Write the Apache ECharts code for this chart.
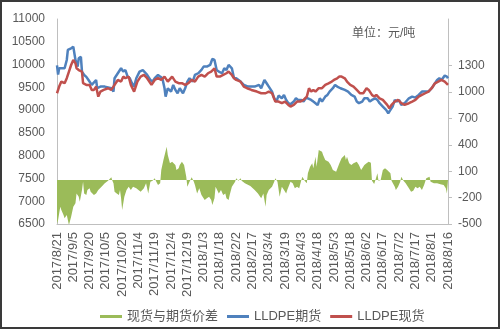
<!DOCTYPE html>
<html><head><meta charset="utf-8">
<script src="https://cdn.jsdelivr.net/npm/echarts@6/dist/echarts.min.js"></script>
<style>html,body{margin:0;padding:0;background:#fff}#c{width:500px;height:329px}</style>
</head><body><div id="c"></div>
<script>
// x tick labels (every 15 days from 2017/8/21)
const dateLabels = ['2017/8/21','2017/9/5','2017/9/20','2017/10/5','2017/10/20','2017/11/4','2017/11/19','2017/12/4','2017/12/19','2018/1/3','2018/1/18','2018/2/2','2018/2/17','2018/3/4','2018/3/19','2018/4/3','2018/4/18','2018/5/3','2018/5/18','2018/6/2','2018/6/17','2018/7/2','2018/7/17','2018/8/1','2018/8/16'];
const leftTicks = [6500,7000,7500,8000,8500,9000,9500,10000,10500,11000];
const rightTicks = [-500,-200,100,400,700,1000,1300,1600];

// LLDPE futures (day offset from 2017/8/21, price)
const futDay = [0,1,2,7,9,10,13,15,17,19,20,22,23,25,27,29,30,32,33,36,37,40,44,50,52,53,56,59,61,63,65,67,69,71,73,76,79,80,83,86,88,90,93,95,97,99,100,102,105,107,109,111,113,116,118,120,122,125,127,130,133,135,138,141,143,145,147,149,152,154,156,158,161,163,165,169,172,176,182,186,188,191,193,195,198,200,202,204,207,209,211,213,215,218,220,222,225,227,229,231,234,236,238,240,242,244,247,249,251,254,256,258,261,265,268,271,274,276,278,281,283,286,288,290,293,295,297,300,303,305,307,309,311,313,315,317,320,324,327,330,333,336,337,340,342,345,347,350,352,354,357,359,360];
const futVal = [9980,9780,9920,9919,10100,10320,10357,10393,10100,9954,10137,10170,9845,9772,9730,9662,9700,9553,9590,9662,9480,9516,9516,9480,9406,9700,9810,9919,9845,9880,9735,9700,9590,9516,9700,9845,9880,9845,9772,9662,9626,9700,9772,9735,9700,9480,9296,9480,9406,9553,9443,9370,9480,9370,9480,9626,9699,9626,9772,9809,9882,9955,9955,9991,10123,10101,9882,9845,9809,9918,9882,9991,9918,9699,9699,9626,9553,9516,9516,9553,9480,9662,9589,9516,9407,9260,9187,9319,9260,9334,9224,9151,9129,9187,9260,9224,9224,9187,9260,9260,9224,9187,9151,9110,9260,9187,9297,9334,9407,9480,9553,9516,9480,9443,9407,9334,9297,9187,9151,9187,9260,9260,9187,9224,9260,9224,9151,9078,9005,8931,9005,9078,9224,9187,9224,9114,9151,9260,9297,9275,9334,9407,9370,9407,9407,9480,9553,9662,9699,9662,9757,9736,9699];

// LLDPE spot
const spotDay = [0,2,4,7,9,11,13,15,17,18,20,23,24,27,30,32,34,36,38,40,43,47,50,53,56,59,61,63,66,68,71,74,77,80,83,87,90,93,96,99,102,106,109,112,115,118,121,124,127,130,133,136,139,142,145,147,150,153,156,158,161,163,165,169,172,175,179,184,188,192,195,198,201,204,207,210,213,215,218,221,224,227,230,232,234,236,238,241,244,247,250,253,255,258,260,262,265,267,270,273,276,279,282,285,287,290,292,294,297,300,304,306,308,311,314,317,320,324,327,330,333,336,339,342,345,348,351,354,357,360];
const spotVal = [9370,9516,9626,9590,9700,9845,9990,10100,10027,9919,9880,9845,9590,9553,9553,9443,9443,9516,9296,9406,9443,9480,9443,9553,9662,9626,9735,9700,9735,9553,9406,9626,9735,9772,9700,9553,9662,9700,9662,9735,9626,9735,9626,9590,9590,9553,9590,9662,9626,9736,9772,9736,9809,9845,9918,9736,9736,9772,9809,9845,9772,9699,9662,9626,9516,9480,9443,9407,9370,9370,9407,9370,9187,9187,9151,9187,9114,9078,9114,9187,9187,9224,9297,9480,9407,9443,9407,9480,9480,9553,9589,9626,9662,9699,9736,9736,9699,9626,9553,9516,9443,9370,9370,9480,9443,9334,9297,9334,9260,9224,9114,9041,9114,9187,9224,9151,9114,9151,9187,9224,9297,9334,9370,9407,9480,9589,9626,9662,9626,9553];

// Spot minus futures spread
const spreadDay = [0,1,3,4,6,7,9,10,11,13,15,17,18,20,21,23,24,25,27,28,30,31,34,36,38,41,44,47,50,51,52,53,55,57,58,59,60,62,64,66,68,70,73,75,77,80,82,84,86,88,90,91,93,95,96,98,99,101,102,104,106,107,109,110,112,113,115,117,119,120,122,124,126,127,129,131,133,136,138,140,142,143,145,146,149,151,153,155,156,158,159,161,164,165,167,169,170,173,178,182,185,188,190,192,193,195,198,200,201,203,205,207,209,211,212,215,217,219,221,223,225,226,228,230,231,233,235,236,238,239,241,242,244,245,247,248,250,252,254,257,258,260,262,263,265,266,267,269,271,273,274,276,278,280,281,283,285,287,289,290,292,293,295,296,298,300,302,304,305,307,308,311,312,314,316,317,319,321,324,326,328,330,332,334,336,338,340,343,344,347,350,353,356,358,359,360];
const spreadVal = [-493,-455,-303,-341,-398,-436,-398,-455,-512,-417,-303,-265,-152,-190,-246,-114,-19,-152,-170,-114,-95,-133,-170,-152,-114,-76,-38,-8,30,-8,-38,-133,-152,-170,-114,-208,-341,-190,-114,-76,-114,-76,-95,-114,-133,-95,-38,-152,-19,-8,19,-8,-57,-38,114,227,246,379,284,190,208,190,171,114,133,171,208,171,38,-76,-19,30,-19,-57,-152,-95,-170,-227,-208,-190,-227,-284,-208,-76,-152,-114,-170,-152,-208,-227,-170,-76,-19,19,-8,19,-8,-38,-68,-114,-152,-208,-152,-303,-170,-114,-76,-19,19,-19,-190,-76,-114,-152,-114,-19,-38,-95,-76,-95,0,38,-8,-38,76,152,190,133,265,152,341,360,322,284,227,246,208,171,114,95,76,190,246,265,284,227,265,190,171,190,208,208,171,114,133,171,190,208,197,-8,-45,-8,76,-8,0,114,133,114,121,76,-8,-76,-114,-76,-19,38,-8,-38,-95,-133,-121,-76,-95,-76,-114,-57,19,38,-19,-38,-38,-49,-57,-95,-152,-160];

const zip = (a, b) => a.map((d, i) => [d, b[i]]);
const txt = '#595959';
const font = '"Liberation Sans", "Noto Sans CJK SC", sans-serif';

const chart = echarts.init(document.getElementById('c'), null, {renderer: 'canvas'});
chart.setOption({
  animation: false,
  textStyle: {fontFamily: font},
  title: {text: '单位：元/吨', left: 347, top: 23,
    textStyle: {fontSize: 12, fontWeight: 'normal', color: txt, fontFamily: font}},
  graphic: [{type: 'rect', shape: {x: 1, y: 1, width: 498, height: 327},
    style: {fill: 'none', stroke: '#3a3a3a', lineWidth: 2}, silent: true}],
  grid: {left: 57, right: 52, top: 19, bottom: 105, containLabel: false},
  legend: {
    left: 95, top: 305, itemGap: 9, itemWidth: 22, itemHeight: 3,
    textStyle: {fontSize: 13, color: txt, fontFamily: font},
    data: [
      {name: '现货与期货价差', icon: 'rect'},
      {name: 'LLDPE期货', icon: 'rect'},
      {name: 'LLDPE现货', icon: 'rect'}
    ]
  },
  xAxis: {
    type: 'value', min: 0, max: 360, interval: 15,
    axisLine: {show: true, onZero: false, lineStyle: {color: '#bfbfbf'}},
    axisTick: {show: false},
    splitLine: {show: false},
    axisLabel: {rotate: 90, margin: 8, fontSize: 13, color: txt, fontFamily: font,
      formatter: v => dateLabels[Math.round(v / 15)] || ''}
  },
  yAxis: [
    {type: 'value', min: leftTicks[0], max: leftTicks[leftTicks.length - 1], interval: 500,
      axisLine: {show: true, lineStyle: {color: '#bfbfbf'}},
      axisTick: {show: false}, splitLine: {show: false},
      axisLabel: {fontSize: 12, color: txt, margin: 12, fontFamily: font, formatter: v => String(v)}},
    {type: 'value', min: -500, max: 1830, interval: 300, position: 'right',
      axisLine: {show: true, onZero: false, lineStyle: {color: '#bfbfbf'}},
      axisTick: {show: true, length: 4, lineStyle: {color: '#bfbfbf'}, customValues: rightTicks},
      splitLine: {show: false},
      axisLabel: {fontSize: 12, color: txt, margin: 10, showMaxLabel: false, customValues: rightTicks,
        fontFamily: font, formatter: v => String(v)}}
  ],
  series: [
    {name: '现货与期货价差', type: 'line', yAxisIndex: 1, data: zip(spreadDay, spreadVal),
      showSymbol: false, symbol: 'none', lineStyle: {width: 0}, color: '#9BBB59',
      areaStyle: {color: '#9BBB59', opacity: 1, origin: 0}},
    {name: 'LLDPE期货', type: 'line', yAxisIndex: 0, data: zip(futDay, futVal),
      showSymbol: false, symbol: 'none', color: '#4F81BD', lineStyle: {width: 2.5, color: '#4F81BD'}},
    {name: 'LLDPE现货', type: 'line', yAxisIndex: 0, data: zip(spotDay, spotVal),
      showSymbol: false, symbol: 'none', color: '#C0504D', lineStyle: {width: 2.5, color: '#C0504D'}}
  ]
});
</script></body></html>
